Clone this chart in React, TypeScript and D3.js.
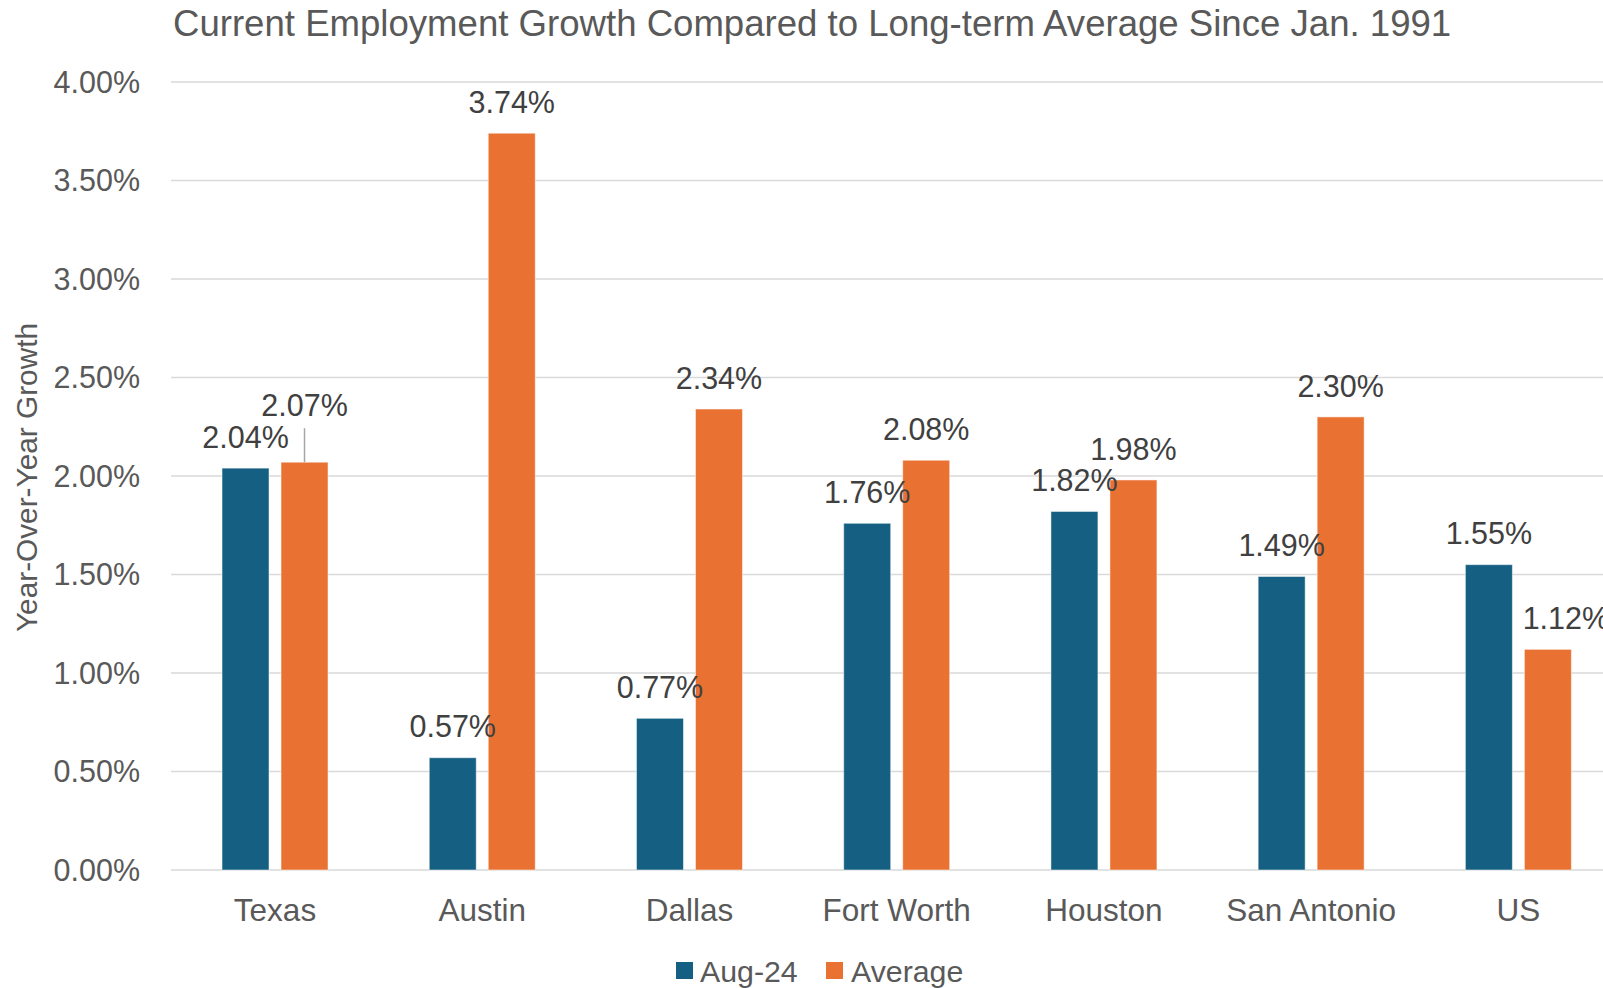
import React, { useEffect } from "react";
import * as d3 from "d3";

const categories = ["Texas", "Austin", "Dallas", "Fort Worth", "Houston", "San Antonio", "US"];
const seriesNames = ["Aug-24", "Average"];
const aug24 = [2.04, 0.57, 0.77, 1.76, 1.82, 1.49, 1.55];
const average = [2.07, 3.74, 2.34, 2.08, 1.98, 2.30, 1.12];
const yTicks = [0, 0.5, 1, 1.5, 2, 2.5, 3, 3.5, 4];

const colors = ["#156082", "#E97132"];
const W = 1603;
const H = 988;
const FONT = "'Liberation Sans', Arial, sans-serif";

export default function App() {
  useEffect(() => {
    document.body.style.margin = "0";
  }, []);

  const x0 = d3.scaleBand<string>().domain(categories).range([171.4, 1622]).padding(0);
  const bw = x0.bandwidth();
  const x1 = d3
    .scaleBand<string>()
    .domain(seriesNames)
    .range([bw / 2 - 53, bw / 2 + 53])
    .paddingInner(12 / 59)
    .paddingOuter(0);
  const y = d3.scaleLinear().domain([0, 4]).range([870, 82]);
  const fmt = (v: number) => d3.format(".2f")(v) + "%";
  const values = [aug24, average];

  return (
    <svg width={W} height={H} style={{ position: "absolute", left: 0, top: 0, background: "#fff" }} fontFamily={FONT}>
      <rect x={0} y={0} width={W} height={H} fill="#fff" />
      <text x={173} y={23} dy="0.35em" fontSize={36.6} fill="#595959">
        Current Employment Growth Compared to Long-term Average Since Jan. 1991
      </text>
      {yTicks.map((t) => (
        <g key={t}>
          <line x1={171} x2={W} y1={y(t)} y2={y(t)} stroke="#d9d9d9" strokeWidth={1.5} />
          <text x={140} y={y(t)} dy="0.35em" textAnchor="end" fontSize={30.5} fill="#595959">
            {fmt(t)}
          </text>
        </g>
      ))}
      <text
        transform={`translate(27,${(324 + 631) / 2}) rotate(-90)`}
        textAnchor="middle"
        dy="0.35em"
        fontSize={29.8}
        fill="#595959"
      >
        Year-Over-Year Growth
      </text>
      {categories.map((c, i) => (
        <g key={c} transform={`translate(${x0(c)},0)`}>
          {seriesNames.map((s, j) => (
            <rect
              key={s}
              x={x1(s)}
              y={y(values[j][i])}
              width={x1.bandwidth()}
              height={y(0) - y(values[j][i])}
              fill={colors[j]}
              stroke="#ffffff"
              strokeOpacity={0.5}
              strokeWidth={1}
            />
          ))}
          <text x={bw / 2} y={910} dy="0.35em" textAnchor="middle" fontSize={31.5} fill="#595959">
            {c}
          </text>
        </g>
      ))}
      {categories.map((c, i) =>
        seriesNames.map((s, j) => {
          const cx = (x0(c) as number) + (x1(s) as number) + x1.bandwidth() / 2;
          const top = y(values[j][i]);
          const lifted = i === 0 && j === 1;
          const shifted = i === categories.length - 1 && j === 1;
          const cy = lifted ? top - 57 : top - 31;
          return (
            <g key={c + s}>
              {lifted && <line x1={cx} x2={cx} y1={cy + 23} y2={top} stroke="#a6a6a6" strokeWidth={1.5} />}
              <text
                x={cx + (shifted ? 18 : 0)}
                y={cy}
                dy="0.35em"
                textAnchor="middle"
                fontSize={30.5}
                fill="#404040"
              >
                {fmt(values[j][i])}
              </text>
            </g>
          );
        })
      )}
      <g>
        <rect x={676} y={962} width={17} height={17} fill={colors[0]} />
        <text x={700} y={971} dy="0.35em" fontSize={30.3} fill="#595959">
          {seriesNames[0]}
        </text>
        <rect x={826} y={962} width={17} height={17} fill={colors[1]} />
        <text x={851} y={971} dy="0.35em" fontSize={30.3} fill="#595959">
          {seriesNames[1]}
        </text>
      </g>
    </svg>
  );
}
